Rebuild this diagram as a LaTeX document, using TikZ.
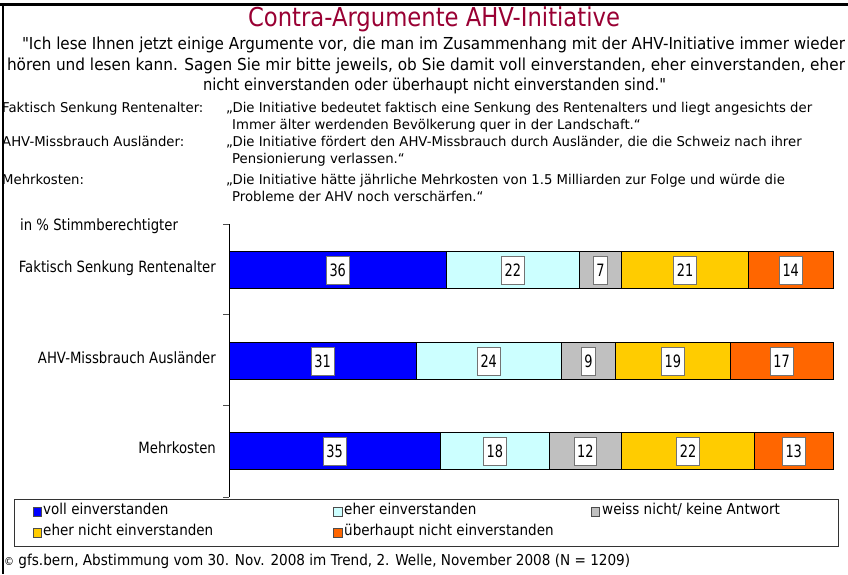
\documentclass[tikz,border=0pt]{standalone}
\usepackage{fontspec}
\usepackage{graphicx}
\setmainfont{DejaVu Sans}
% family without TeX ligatures, so that " stays a straight quote
\newfontfamily\djf{DejaVu Sans}
\newfontfamily\narrow{DejaVu Sans}[FakeStretch=0.76]
\newlength\fitlen
% set #2 horizontally scaled to a width of #1 pt
\newcommand\fitto[2]{\settowidth\fitlen{#2}\pgfmathsetmacro\fitfac{#1/\fitlen}\scalebox{\fitfac}[1]{#2}}
% store in #1 the horizontal factor that brings #4 (in font #2) to width #3
\newcommand\getfac[4]{\begingroup#2\settowidth\fitlen{#4}\pgfmathsetmacro\tmpfac{#3/\fitlen}\global\let#1\tmpfac\endgroup}
\definecolor{titlered}{RGB}{153,0,51}
\definecolor{cvoll}{RGB}{0,0,255}
\definecolor{ceher}{RGB}{204,255,255}
\definecolor{cweiss}{RGB}{192,192,192}
\definecolor{cehernicht}{RGB}{255,204,0}
\definecolor{cueberhaupt}{RGB}{255,102,0}
\newcommand\qfont{\djf\fontsize{16.5}{20}\selectfont}
\newcommand\afont{\djf\fontsize{13.5}{17}\selectfont}
\newcommand\cfont{\djf\fontsize{15.5}{18}\selectfont}
\newcommand\lfont{\djf\fontsize{15}{18}\selectfont}
\tikzset{
  txt/.style={inner sep=0pt, text height=.72em, text depth=.2em},
  qtxt/.style={txt, font=\qfont},
  atxt/.style={txt, font=\afont},
  ctxt/.style={txt, font=\cfont},
  ltxt/.style={txt, font=\lfont},
  seg/.style={draw=black, line width=0.8pt, minimum height=37pt, inner sep=0pt, outer sep=0pt},
  valbox/.style={draw=black!55, line width=0.8pt, fill=white, minimum height=28pt, inner xsep=3.2pt, inner ysep=0pt,
    font=\fontsize{17}{18}\selectfont\narrow},
  legsq/.style={draw=black!70, line width=0.7pt, minimum width=8.5pt, minimum height=8.5pt, inner sep=0pt},
  axisline/.style={draw=black, line width=1pt},
  tick/.style={draw=black!70, line width=1pt},
}
\newcommand\A[1]{\scalebox{\afac}[1]{#1}}
\newcommand\C[1]{\scalebox{\cfac}[1]{#1}}
\newcommand\LL[1]{\scalebox{\lfac}[1]{#1}}
\begin{document}
\getfac{\afac}{\afont}{586}{„Die Initiative bedeutet faktisch eine Senkung des Rentenalters und liegt angesichts der}%
\getfac{\cfac}{\cfont}{197}{Faktisch Senkung Rentenalter}%
\getfac{\lfac}{\lfont}{626}{© gfs.bern, Abstimmung vom 30. Nov. 2008 im Trend, 2. Welle, November 2008 (N = 1209)}%
\begin{tikzpicture}[x=1pt,y=-1pt]
\useasboundingbox (0,0) rectangle (848,574);
% outer frame
\draw[line width=3pt] (0,4) -- (848,4);
\draw[line width=2.5pt] (3,3) -- (3,574);

% heading and question
\node[txt, font=\djf\fontsize{26}{30}\selectfont, text=titlered] (title) at (434,24) {\fitto{372}{Contra-Argumente AHV-Initiative}};
\node[qtxt] (q1) at (433.5,47) {\fitto{823}{"Ich lese Ihnen jetzt einige Argumente vor, die man im Zusammenhang mit der AHV-Initiative immer wieder}};
\node[qtxt] (q2) at (426,68) {\fitto{838}{hören und lesen kann. Sagen Sie mir bitte jeweils, ob Sie damit voll einverstanden, eher einverstanden, eher}};
\node[qtxt] (q3) at (434.5,88) {\fitto{463}{nicht einverstanden oder überhaupt nicht einverstanden sind."}};

% arguments
\node[atxt, anchor=west] (a1) at (2,110) {\A{Faktisch Senkung Rentenalter:}};
\node[atxt, anchor=west] (a1q) at (226,110) {\A{„Die Initiative bedeutet faktisch eine Senkung des Rentenalters und liegt angesichts der}};
\node[atxt, anchor=west] (a1r) at (232,127) {\A{Immer älter werdenden Bevölkerung quer in der Landschaft.“}};
\node[atxt, anchor=west] (a2) at (2,144) {\A{AHV-Missbrauch Ausländer:}};
\node[atxt, anchor=west] (a2q) at (226,144) {\A{„Die Initiative fördert den AHV-Missbrauch durch Ausländer, die die Schweiz nach ihrer}};
\node[atxt, anchor=west] (a2r) at (232,161) {\A{Pensionierung verlassen.“}};
\node[atxt, anchor=west] (a3) at (2,182) {\A{Mehrkosten:}};
\node[atxt, anchor=west] (a3q) at (226,182) {\A{„Die Initiative hätte jährliche Mehrkosten von 1.5 Milliarden zur Folge und würde die}};
\node[atxt, anchor=west] (a3r) at (232,199) {\A{Probleme der AHV noch verschärfen.“}};

% chart labels
\node[ctxt, anchor=west] (unit) at (20,228) {\C{in \% Stimmberechtigter}};
\node[ctxt, anchor=east] (r1) at (216,270) {\C{Faktisch Senkung Rentenalter}};
\node[ctxt, anchor=east] (r2) at (216,361) {\C{AHV-Missbrauch Ausländer}};
\node[ctxt, anchor=east] (r3) at (216,451) {\C{Mehrkosten}};

% stacked bars: row/segment/start/value/colour/centre
\foreach \r/\i/\s/\v/\c/\yc in {
  1/1/0/36/cvoll/270, 1/2/36/22/ceher/270, 1/3/58/7/cweiss/270, 1/4/65/21/cehernicht/270, 1/5/86/14/cueberhaupt/270,
  2/1/0/31/cvoll/361, 2/2/31/24/ceher/361, 2/3/55/9/cweiss/361, 2/4/64/19/cehernicht/361, 2/5/83/17/cueberhaupt/361,
  3/1/0/35/cvoll/451, 3/2/35/18/ceher/451, 3/3/53/12/cweiss/451, 3/4/65/22/cehernicht/451, 3/5/87/13/cueberhaupt/451}{
  \node[seg, fill=\c, minimum width=\v*6.04pt, anchor=west] (s\r\i) at ({229+\s*6.04},\yc) {};
  \node[valbox] (v\r\i) at (s\r\i.center) {\v};
}

% category axis with ticks
\coordinate (axtop) at (229,224);
\coordinate (axbot) at (229,497);
\draw[axisline] (axtop) -- (axbot);
\foreach \t/\ty in {1/224,2/314,3/405,4/497}{
  \coordinate (tk\t) at (229,\ty);
  \draw[tick] (tk\t) -- ++(-6,0);
}

% legend
\node[draw=black!80, line width=0.8pt, minimum width=824pt, minimum height=47pt, inner sep=0pt, anchor=north west] (legend) at (14,499) {};
\node[legsq, fill=cvoll] (k1) at (37.5,512) {};
\node[ltxt, anchor=west] (l1) at (43,512) {\LL{voll einverstanden}};
\node[legsq, fill=ceher] (k2) at (338,512) {};
\node[ltxt, anchor=west] (l2) at (344,512) {\LL{eher einverstanden}};
\node[legsq, fill=cweiss] (k3) at (595.5,512) {};
\node[ltxt, anchor=west] (l3) at (602,512) {\LL{weiss nicht/ keine Antwort}};
\node[legsq, fill=cehernicht] (k4) at (37.5,533) {};
\node[ltxt, anchor=west] (l4) at (43,533) {\LL{eher nicht einverstanden}};
\node[legsq, fill=cueberhaupt] (k5) at (338,533) {};
\node[ltxt, anchor=west] (l5) at (344,533) {\LL{überhaupt nicht einverstanden}};

% source line
\node[ltxt, anchor=west] (src) at (4,563) {\fitto{626}{{\fontsize{11}{12}\selectfont ©} gfs.bern, Abstimmung vom 30. Nov. 2008 im Trend, 2. Welle, November 2008 (N = 1209)}};
\end{tikzpicture}
\end{document}
